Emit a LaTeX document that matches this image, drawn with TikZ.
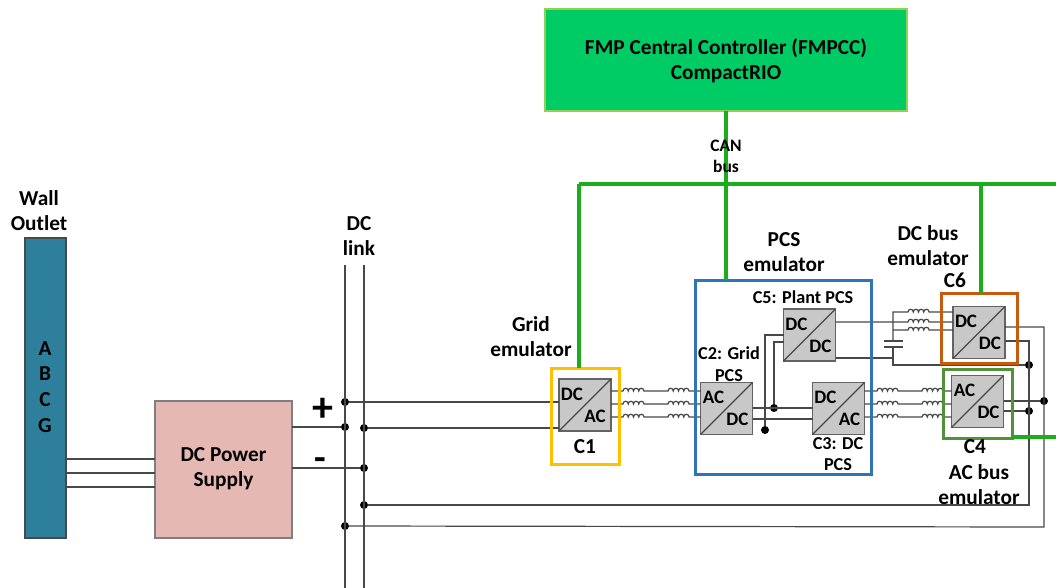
\documentclass[tikz,border=0pt]{standalone}
\usepackage{fontspec}
\setmainfont{Carlito}
\definecolor{wirec}{HTML}{484848}
\definecolor{busg}{HTML}{1CAD1C}
\definecolor{topg}{HTML}{00CC66}
\definecolor{topb}{HTML}{92D050}
\definecolor{wallc}{HTML}{2E7F9B}
\definecolor{psuc}{HTML}{E6B8B3}
\definecolor{convc}{HTML}{C8C8C8}
\definecolor{goldc}{HTML}{FFC000}
\definecolor{bluec}{HTML}{2E75B6}
\definecolor{orangec}{HTML}{C55A11}
\definecolor{greenc}{HTML}{548F3A}
\tikzset{
  blockbox/.style={draw=#1,line width=1.3pt,inner sep=0pt,outer sep=0pt},
  frame/.style={draw=#1,line width=3pt,inner sep=0pt,outer sep=0pt,fill=none},
  conv/.style={draw=wirec!85,line width=1.2pt,fill=convc,minimum width=52pt,minimum height=52pt,inner sep=0pt,outer sep=0pt},
  wire/.style={draw=wirec,line width=1.2pt},
  bus/.style={draw=busg,line width=3.6pt},
  jn/.style={circle,fill=black,inner sep=0pt,minimum size=8pt,outer sep=0pt},
  lab/.style={font=\fontsize{21.3}{25}\selectfont\bfseries,align=center,inner sep=0pt},
  slab/.style={font=\fontsize{18.2}{21.5}\selectfont\bfseries,align=center,inner sep=0pt},
  clab/.style={font=\fontsize{19}{20}\selectfont\bfseries,inner sep=0pt},
}
\def\coil{.. controls +(0,-3.6) and +(0,-3.6) .. ++(5.25,0) .. controls +(0,-3.6) and +(0,-3.6) .. ++(5.25,0) .. controls +(0,-3.6) and +(0,-3.6) .. ++(5.25,0) .. controls +(0,-3.6) and +(0,-3.6) .. ++(5.25,0)}
\newcommand{\convat}[5]{%
  \node[conv] (#1) at (#2) {};
  \draw[wirec,line width=1.1pt] (#1.south west) -- (#1.north east);
  \node[clab] (#1a) at ($(#1.center)+(-13,-11)$) {#3};
  \node[clab] (#1b) at ($(#1.center)+(#5,11)$) {#4};
}
\usetikzlibrary{calc}
\begin{document}
\begin{tikzpicture}[x=1pt,y=-1pt]
\useasboundingbox (0,0) rectangle (1056,588);
% blocks
\node[blockbox=topb,fill=topg,minimum width=362pt,minimum height=102pt] (top) at (726,60) {};
\node[blockbox=wirec,fill=wallc,minimum width=41pt,minimum height=300pt] (wall) at (45.5,388) {};
\node[blockbox=wirec!70,fill=psuc,minimum width=137pt,minimum height=137pt] (psu) at (223.5,469.5) {};
% converters
\convat{c1}{585,405}{DC}{AC}{10}
\convat{c2}{726.5,408.5}{AC}{DC}{11}
\convat{c3}{838.5,408.5}{DC}{AC}{11}
\convat{c4}{977.5,401.5}{AC}{DC}{11}
\convat{c5}{809.5,335}{DC}{DC}{11}
\convat{c6}{979,332.5}{DC}{DC}{11}
% DC link
\coordinate (la) at (345,265); \coordinate (lb) at (364,265);
\coordinate (lae) at (345,588); \coordinate (lbe) at (364,588);
\node[jn] (j1) at (345,402) {};
\node[jn] (j2) at (345,427) {};
\node[jn] (j3) at (364,428) {};
\node[jn] (j4) at (364,468) {};
\node[jn] (j5) at (364,505) {};
\node[jn] (j6) at (345,526) {};
\node[jn] (j7) at (774,408) {};
\node[jn] (j8) at (765,430) {};
\node[jn] (j9) at (1029,365) {};
\node[jn] (j10) at (1044,401) {};
\node[jn] (j11) at (1029,411) {};
\draw[wire] (la) -- (lae);
\draw[wire] (lb) -- (lbe);
% wall to psu
\foreach \yy in {459,473,487} \draw[wire] (wall.east |- 0,\yy) -- (psu.west |- 0,\yy);
\draw[wire] (psu.east |- j2) -- (j2);
\draw[wire] (psu.east |- j4) -- (j4);
\draw[wire] (j1) -- (j1 -| c1.west);
\draw[wire] (j3) -- (j3 -| c1.west);
% three-phase links
\foreach \yy in {391,404,417} {
  \draw[wire] (c1.east |- 0,\yy) -- (623,\yy) \coil -- (668,\yy) \coil -- (c2.west |- 0,\yy);
  \draw[wire] (c3.east |- 0,\yy) -- (877,\yy) \coil -- (922,\yy) \coil -- (c4.west |- 0,\yy);
}
% C2 - C3 and C5 feed
\draw[wire] (c2.east |- j7) -- (c3.west |- j7);
\draw[wire] (c2.east |- 0,419) -- (c3.west |- 0,419);
\draw[wire] (j7) -- (774,342) -- (c5.west |- 0,342);
\draw[wire] (j8) -- (765,335) -- (c5.west |- 0,335);
% C5 - C6
\coordinate (capa) at (893,341);
\coordinate (capb) at (893,347);
\draw[wire] (c5.east |- 0,322) -- (908,322) \coil -- (c6.west |- 0,322);
\draw[wire] (c5.east |- 0,358) -- (893,358);
\draw[wire] (capa) -- (893,312) -- (908,312) \coil -- (c6.west |- 0,312);
\draw[wire] (893,330) -- (908,330) \coil -- (c6.west |- 0,330);
\draw[wire] (capb) -- (893,365) -- (j9);
\draw[wire,line width=1.4pt] ($(capa)+(-9.5,0)$) -- ($(capa)+(9.5,0)$);
\draw[wire,line width=1.4pt] ($(capb)+(-9.5,0)$) -- ($(capb)+(9.5,0)$);
% outputs
\draw[wire] (j5) -- (1029,505) -- (1029,341) -- (c6.east |- 0,341);
\draw[wire] (j6) -- (1044,527) -- (1044,327) -- (c6.east |- 0,327);
\draw[wire] (c4.east |- j10) -- (j10);
\draw[wire] (c4.east |- j11) -- (j11);
% frames
\node[frame=goldc,minimum width=68pt,minimum height=96pt] (fgold) at (585,416) {};
\node[frame=bluec,minimum width=176pt,minimum height=194pt] (fblue) at (783,377) {};
\node[frame=orangec,minimum width=76pt,minimum height=70pt] (forange) at (979,328) {};
\node[frame=greenc,minimum width=69pt,minimum height=69pt] (fgreen) at (977.5,403.5) {};
% buses
\coordinate (busr) at (1056,184);
\coordinate (busl) at (579,184);
\coordinate (busr2) at (1056,437);
\coordinate (busc) at (981,184);
\draw[bus] (busl) -- (busr);
\draw[bus] (busl) -- (fgold.north -| busl);
\draw[bus] (busc) -- (forange.north -| busc);
\draw[bus] (fgreen.east |- busr2) -- (busr2);
\draw[bus] (top.south) -- (fblue.north -| top.south);
% labels
\node[lab] (ttop) at (726,61) {FMP Central Controller (FMPCC)\\CompactRIO};
\node[font=\fontsize{17.5}{21}\selectfont\bfseries,align=center,inner sep=0pt] (tcan) at (726,156.5) {CAN\\bus};
\node[lab] (twall) at (39,210.5) {Wall\\Outlet};
\node[lab] (ta) at (45,349) {A};
\node[lab] (tb) at (45,374) {B};
\node[lab] (tcc) at (45,400) {C};
\node[lab] (tg) at (45,426) {G};
\node[lab] (tpsu) at (223.5,469) {DC Power\\Supply};
\node[lab] (tlink) at (359,236) {DC\\link};
\node[lab] (tgrid) at (531,337) {Grid\\emulator};
\node[lab] (tpcs) at (784,252.5) {PCS\\emulator};
\node[lab] (tdcb) at (928,245.5) {DC bus\\emulator};
\node[lab] (tc6) at (955,280) {C6};
\node[slab] (tc5) at (803,297) {C5: Plant PCS};
\node[slab] (tc2) at (729,364) {C2: Grid\\PCS};
\node[slab] (tc3) at (838,454) {C3: DC\\PCS};
\node[lab] (tc1) at (585,447) {C1};
\node[lab] (tc4) at (975,447) {C4};
\node[lab] (tac) at (979,484.5) {AC bus\\emulator};
\node[font=\fontsize{42}{42}\selectfont\bfseries,inner sep=0pt] (tplus) at (323,410) {+};
\node[font=\fontsize{38}{38}\selectfont\bfseries,inner sep=0pt] (tminus) at (320,464) {-};
\end{tikzpicture}
\end{document}
